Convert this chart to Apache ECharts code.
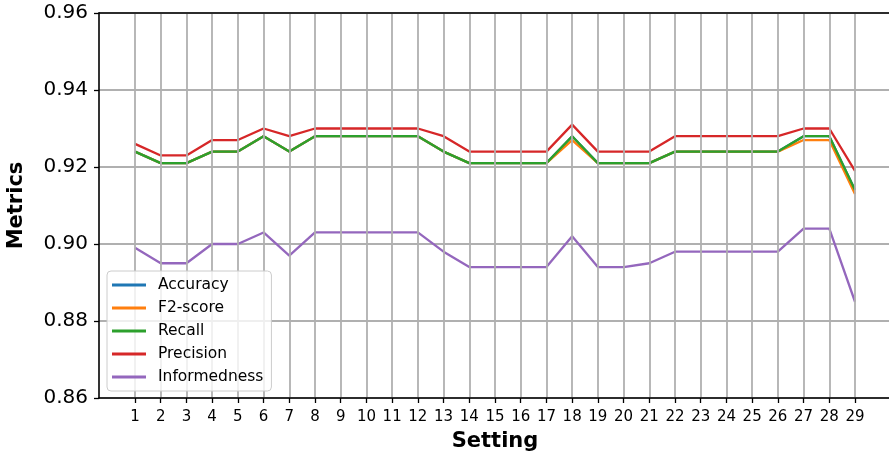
<!DOCTYPE html>
<html>
<head>
<meta charset="utf-8">
<script src="https://cdn.jsdelivr.net/npm/echarts@6/dist/echarts.min.js"></script>
<style>
html,body{margin:0;padding:0;background:#fff;}
#chart{width:889px;height:454px;}
</style>
</head>
<body>
<div id="chart"></div>
<script>
const settings = [1,2,3,4,5,6,7,8,9,10,11,12,13,14,15,16,17,18,19,20,21,22,23,24,25,26,27,28,29];
const accuracy = [0.924,0.921,0.921,0.924,0.924,0.928,0.924,0.928,0.928,0.928,0.928,0.928,0.924,0.921,0.921,0.921,0.921,0.928,0.921,0.921,0.921,0.924,0.924,0.924,0.924,0.924,0.928,0.928,0.914];
const f2score = [0.924,0.921,0.921,0.924,0.924,0.928,0.924,0.928,0.928,0.928,0.928,0.928,0.924,0.921,0.921,0.921,0.921,0.927,0.921,0.921,0.921,0.924,0.924,0.924,0.924,0.924,0.927,0.927,0.913];
const recall = [0.924,0.921,0.921,0.924,0.924,0.928,0.924,0.928,0.928,0.928,0.928,0.928,0.924,0.921,0.921,0.921,0.921,0.928,0.921,0.921,0.921,0.924,0.924,0.924,0.924,0.924,0.928,0.928,0.914];
const precision = [0.926,0.923,0.923,0.927,0.927,0.930,0.928,0.930,0.930,0.930,0.930,0.930,0.928,0.924,0.924,0.924,0.924,0.931,0.924,0.924,0.924,0.928,0.928,0.928,0.928,0.928,0.930,0.930,0.919];
const informedness = [0.899,0.895,0.895,0.900,0.900,0.903,0.897,0.903,0.903,0.903,0.903,0.903,0.898,0.894,0.894,0.894,0.894,0.902,0.894,0.894,0.895,0.898,0.898,0.898,0.898,0.898,0.904,0.904,0.885];
const yTicks = [0.86,0.88,0.90,0.92,0.94,0.96];

const seriesNames = ['Accuracy','F2-score','Recall','Precision','Informedness'];
const seriesData = [accuracy,f2score,recall,precision,informedness];
const colors = ['#1f77b4','#ff7f0e','#2ca02c','#d62728','#9467bd'];
const FONT = 'DejaVu Sans';

const chart = echarts.init(document.getElementById('chart'), null, {renderer:'canvas'});
const dataSeries = seriesNames.map((n, i) => ({
  name: n,
  type: 'line',
  data: settings.map((s, j) => [s, seriesData[i][j]]),
  showSymbol: false,
  symbol: 'none',
  lineStyle: {width: 2.3, color: colors[i]},
  itemStyle: {color: colors[i]},
  z: 3
}));
const gridSeries = {
  name: 'vgrid',
  type: 'line',
  data: [],
  z: 1,
  silent: true,
  markLine: {
    silent: true,
    animation: false,
    symbol: ['none','none'],
    label: {show: false},
    emphasis: {disabled: true},
    lineStyle: {color: '#b0b0b0', width: 1.8, type: 'solid'},
    data: settings.map(s => ({xAxis: s}))
  }
};
const option = {
  animation: false,
  color: colors,
  textStyle: {fontFamily: FONT},
  grid: {left: 99, top: 13, width: 792, height: 385, show: false, outerBoundsMode: 'none', containLabel: false},
  legend: {
    orient: 'vertical',
    left: 107, top: 271,
    z: 20,
    icon: 'rect',
    itemWidth: 34, itemHeight: 2.8,
    itemGap: 7,
    padding: [6, 8, 6, 5],
    backgroundColor: 'rgba(255,255,255,0.8)',
    borderColor: '#cccccc', borderWidth: 1, borderRadius: 4,
    textStyle: {fontFamily: FONT, fontSize: 15.5, color: '#000', lineHeight: 14, padding: [0,0,0,7]},
    data: seriesNames
  },
  xAxis: [{
    type: 'value',
    min: -0.4, max: 30.4,
    name: 'Setting', nameLocation: 'middle', nameGap: 33,
    nameTextStyle: {fontFamily: FONT, fontSize: 21, fontWeight: 'bold', color: '#000'},
    axisLine: {show: true, onZero: false, lineStyle: {color: '#000', width: 1.6}},
    axisTick: {show: true, length: 5, lineStyle: {color: '#000', width: 1.3}, customValues: settings},
    axisLabel: {fontFamily: FONT, fontSize: 15, color: '#000', margin: 12, customValues: settings, formatter: v => String(v)},
    splitLine: {show: false},
    z: 10
  }, {
    type: 'value',
    position: 'top',
    min: -0.4, max: 30.4,
    axisLine: {show: true, onZero: false, lineStyle: {color: '#000', width: 1.6}},
    axisTick: {show: false},
    axisLabel: {show: false},
    splitLine: {show: false},
    z: 10
  }],
  yAxis: {
    type: 'value',
    min: 0.86, max: 0.96, interval: 0.02,
    name: 'Metrics', nameLocation: 'middle', nameGap: 72,
    nameTextStyle: {fontFamily: FONT, fontSize: 21, fontWeight: 'bold', color: '#000'},
    axisLine: {show: true, onZero: false, lineStyle: {color: '#000', width: 1.6}},
    axisTick: {show: true, length: 5, lineStyle: {color: '#000', width: 1.3}},
    axisLabel: {fontFamily: FONT, fontSize: 20, color: '#000', margin: 11, formatter: v => v.toFixed(2)},
    splitLine: {show: true, lineStyle: {color: '#b0b0b0', width: 1.8}}
  },
  series: [gridSeries].concat(dataSeries)
};
chart.setOption(option);
</script>
</body>
</html>
